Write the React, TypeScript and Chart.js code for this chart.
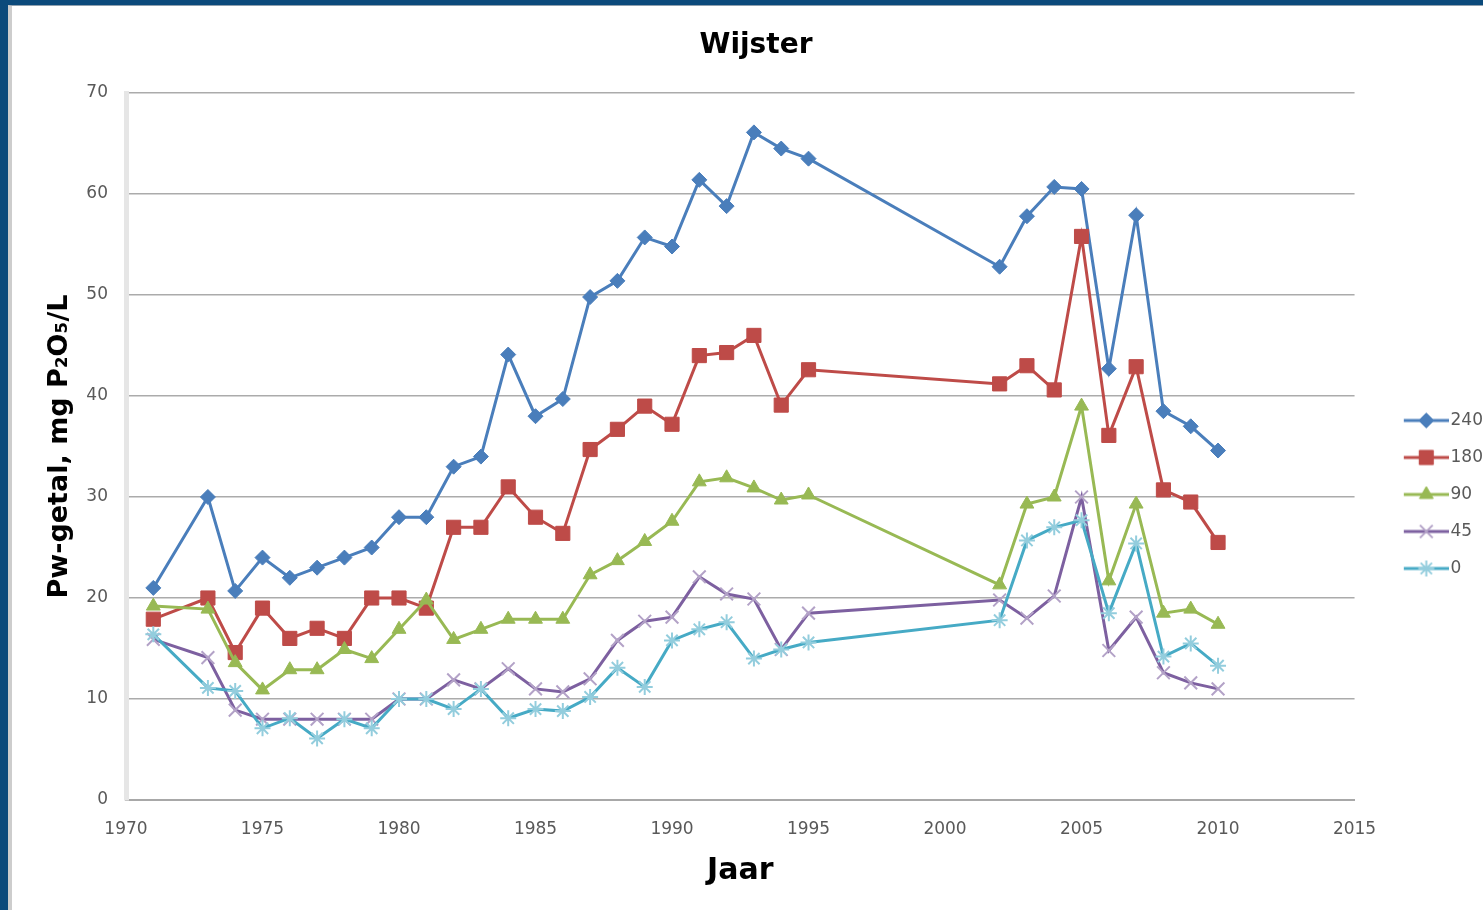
import { useEffect, useRef } from 'react';
import { Chart, registerables } from 'chart.js';

Chart.register(...registerables);

// ---- Data ----
const years = [
  1971, 1973, 1974, 1975, 1976, 1977, 1978, 1979, 1980, 1981, 1982, 1983, 1984, 1985, 1986,
  1987, 1988, 1989, 1990, 1991, 1992, 1993, 1994, 1995, 2002, 2003, 2004, 2005, 2006, 2007,
  2008, 2009, 2010,
];

const p240 = [
  21.0, 30.0, 20.7, 24.0, 22.0, 23.0, 24.0, 25.0, 28.0, 28.0, 33.0, 34.0, 44.1, 38.0, 39.7,
  49.8, 51.4, 55.7, 54.8, 61.4, 58.8, 66.1, 64.5, 63.5, 52.8, 57.8, 60.7, 60.5, 42.7, 57.9,
  38.5, 37.0, 34.6,
];

const p180 = [
  17.9, 20.0, 14.6, 19.0, 16.0, 17.0, 16.0, 20.0, 20.0, 19.0, 27.0, 27.0, 31.0, 28.0, 26.4,
  34.7, 36.7, 39.0, 37.2, 44.0, 44.3, 46.0, 39.1, 42.6, 41.2, 43.0, 40.6, 55.8, 36.1, 42.9,
  30.7, 29.5, 25.5,
];

const p90 = [
  19.2, 18.9, 13.6, 10.9, 12.9, 12.9, 14.9, 14.0, 16.9, 19.8, 15.9, 16.9, 17.9, 17.9, 17.9,
  22.3, 23.7, 25.6, 27.6, 31.5, 31.9, 30.9, 29.7, 30.2, 21.3, 29.3, 30.0, 39.0, 21.7, 29.3,
  18.5, 18.9, 17.4,
];

const p45 = [
  15.9, 14.1, 8.9, 8.0, 8.0, 8.0, 8.0, 8.0, 10.0, 10.0, 11.9, 11.0, 13.0, 11.0, 10.7,
  12.0, 15.8, 17.7, 18.1, 22.1, 20.4, 19.9, 14.9, 18.5, 19.8, 18.0, 20.2, 30.0, 14.8, 18.1,
  12.6, 11.6, 11.0,
];

const p0 = [
  16.4, 11.1, 10.8, 7.1, 8.1, 6.1, 8.0, 7.1, 10.0, 10.0, 9.0, 11.0, 8.1, 9.0, 8.8,
  10.2, 13.1, 11.2, 15.8, 16.9, 17.6, 14.0, 14.9, 15.6, 17.8, 25.7, 27.0, 27.7, 18.5, 25.4,
  14.2, 15.5, 13.3,
];

const seriesLabels = ['240', '180', '90', '45', '0'];
const chartTitle = 'Wijster';
const yTitle = 'Pw-getal, mg P₂O₅/L';
const xTitle = 'Jaar';
const xMin = 1970;
const xMax = 2015;
const xStep = 5;
const yMin = 0;
const yMax = 70;
const yStep = 10;

// ---- Styles ----
const FONT = "'DejaVu Sans', sans-serif";
const TICK_COLOR = '#595959';

type SeriesStyle = {
  line: string;
  shape: string;
  fill: string;
  stroke: string;
  radius: number;
  bw: number;
};

const styles: SeriesStyle[] = [
  { line: '#4A7EBB', shape: 'rectRot', fill: '#4A7EBB', stroke: '#4A7EBB', radius: 7.5, bw: 1 },
  { line: '#BE4B48', shape: 'rect', fill: '#BE4B48', stroke: '#BE4B48', radius: 10, bw: 1 },
  { line: '#98B954', shape: 'triangle', fill: '#98B954', stroke: '#98B954', radius: 8, bw: 1 },
  { line: '#7D60A0', shape: 'crossRot', fill: 'rgba(0,0,0,0)', stroke: '#B3A2C7', radius: 9, bw: 2 },
  { line: '#46AAC5', shape: 'star', fill: 'rgba(0,0,0,0)', stroke: '#93CDDD', radius: 8, bw: 2 },
];

function drawMarker(g: CanvasRenderingContext2D, s: SeriesStyle, x: number, y: number) {
  const r = s.radius;
  const d = r * Math.SQRT1_2;
  g.fillStyle = s.fill;
  g.strokeStyle = s.stroke;
  g.lineWidth = s.bw;
  g.beginPath();
  switch (s.shape) {
    case 'rectRot':
      g.moveTo(x, y - r);
      g.lineTo(x + r, y);
      g.lineTo(x, y + r);
      g.lineTo(x - r, y);
      g.closePath();
      g.fill();
      g.stroke();
      break;
    case 'rect':
      g.rect(x - d, y - d, 2 * d, 2 * d);
      g.fill();
      g.stroke();
      break;
    case 'triangle':
      g.moveTo(x, y - r);
      g.lineTo(x + r * 0.866, y + r * 0.5);
      g.lineTo(x - r * 0.866, y + r * 0.5);
      g.closePath();
      g.fill();
      g.stroke();
      break;
    case 'crossRot':
      g.moveTo(x - d, y - d);
      g.lineTo(x + d, y + d);
      g.moveTo(x - d, y + d);
      g.lineTo(x + d, y - d);
      g.stroke();
      break;
    case 'star':
      g.moveTo(x, y - r);
      g.lineTo(x, y + r);
      g.moveTo(x - r, y);
      g.lineTo(x + r, y);
      g.moveTo(x - d, y - d);
      g.lineTo(x + d, y + d);
      g.moveTo(x - d, y + d);
      g.lineTo(x + d, y - d);
      g.stroke();
      break;
  }
}

function makeLegendIcon(s: SeriesStyle): HTMLCanvasElement {
  const c = document.createElement('canvas');
  c.width = 81;
  c.height = 22;
  const g = c.getContext('2d')!;
  g.strokeStyle = s.line;
  g.lineWidth = 3;
  g.beginPath();
  g.moveTo(36, 11);
  g.lineTo(81, 11);
  g.stroke();
  drawMarker(g, s, 58.5, 11);
  return c;
}

export default function App() {
  const ref = useRef<HTMLCanvasElement>(null);

  useEffect(() => {
    const canvas = ref.current;
    if (!canvas) return;
    const icons = styles.map(makeLegendIcon);
    const seriesValues = [p240, p180, p90, p45, p0];

    const chart = new Chart(canvas, {
      type: 'line',
      data: {
        datasets: seriesValues.map((vals, i) => ({
          label: seriesLabels[i],
          data: years.map((yr, j) => ({ x: yr, y: vals[j] })),
          borderColor: styles[i].line,
          backgroundColor: styles[i].fill,
          borderWidth: 3,
          pointStyle: styles[i].shape as any,
          pointRadius: styles[i].radius,
          pointHoverRadius: styles[i].radius,
          pointBackgroundColor: styles[i].fill,
          pointBorderColor: styles[i].stroke,
          pointBorderWidth: styles[i].bw,
          fill: false,
          tension: 0,
          order: 4 - i,
        })),
      },
      options: {
        responsive: false,
        animation: false,
        devicePixelRatio: 1,
        layout: { padding: { left: 7, top: 0, right: 0, bottom: 0 } },
        plugins: {
          tooltip: { enabled: false },
          title: {
            display: true,
            text: chartTitle,
            color: '#000',
            font: { family: FONT, size: 28, weight: 'bold' },
            padding: { top: 23, bottom: 30.4 },
          },
          legend: {
            display: true,
            position: 'right',
            align: 'center',
            title: {
              display: true,
              text: ' ',
              font: { family: FONT, size: 10 },
              padding: { top: 61, bottom: 0 },
            },
            labels: {
              usePointStyle: true,
              pointStyleWidth: 67.5,
              padding: 20,
              color: TICK_COLOR,
              font: { family: FONT, size: 17 },
              sort: (a: any, b: any) => a.datasetIndex - b.datasetIndex,
              generateLabels: (ch: any) => {
                const items = Chart.defaults.plugins.legend.labels.generateLabels(ch);
                return items.map((it: any) => ({
                  ...it,
                  pointStyle: icons[it.datasetIndex],
                  fontColor: TICK_COLOR,
                  rotation: 0,
                }));
              },
            },
          },
        },
        scales: {
          x: {
            type: 'linear',
            min: xMin,
            max: xMax,
            afterFit: (s: any) => {
              s.height = 110;
            },
            ticks: {
              stepSize: xStep,
              callback: (v: any) => String(v),
              padding: 19,
              color: TICK_COLOR,
              font: { family: FONT, size: 17 },
              maxRotation: 0,
              autoSkip: false,
            },
            grid: { display: false, drawTicks: false },
            border: { display: true, color: '#a8a8a8', width: 2 },
            title: {
              display: true,
              text: xTitle,
              color: '#000',
              font: { family: FONT, size: 30, weight: 'bold' },
              padding: { top: 0, bottom: 21 },
            },
          },
          y: {
            type: 'linear',
            min: yMin,
            max: yMax,
            afterFit: (s: any) => {
              s.width = 107;
            },
            ticks: {
              stepSize: yStep,
              padding: 18,
              color: TICK_COLOR,
              font: { family: FONT, size: 17 },
            },
            grid: { color: '#ababab', lineWidth: 1.5, drawTicks: false },
            border: { display: true, color: '#e6e6e6', width: 5 },
            title: {
              display: true,
              text: yTitle,
              color: '#000',
              font: { family: FONT, size: 27, weight: 'bold' },
              padding: { top: 24.8, bottom: 0 },
            },
          },
        },
      } as any,
    });

    return () => chart.destroy();
  }, []);

  return (
    <div
      style={{
        position: 'fixed',
        left: 0,
        top: 0,
        width: '100vw',
        height: '100vh',
        background: '#0b4a7b',
        overflow: 'hidden',
      }}
    >
      <div
        style={{
          position: 'absolute',
          left: 8,
          top: 5,
          right: 0,
          bottom: 0,
          background: '#ffffff',
          borderLeft: '4px solid #cdcdcd',
          borderTop: '1px solid #8fa0ae',
          overflow: 'hidden',
        }}
      >
        <canvas ref={ref} width={1481} height={904} style={{ display: 'block' }} />
      </div>
    </div>
  );
}
